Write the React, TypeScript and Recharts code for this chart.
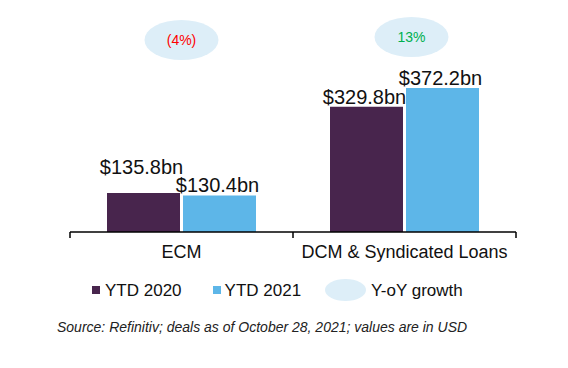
import {Bar, BarChart, LabelList, XAxis, YAxis} from 'recharts';

const categories = ['ECM', 'DCM & Syndicated Loans'];
const ytd2020 = [135.8, 329.8];
const ytd2021 = [130.4, 372.2];
const growth = ['(4%)', '13%'];

const data = categories.map((name, i) => ({name, ytd2020: ytd2020[i], ytd2021: ytd2021[i], growth: growth[i]}));

const FONT = '"Liberation Sans", Arial, sans-serif';
const PURPLE = '#48254d';
const BLUE = '#5db6e8';
const BUBBLE = '#ddeef8';

function CategoryTick(props: any) {
  const {x, y, payload, index, width, visibleTicksCount} = props;
  const half = width / visibleTicksCount / 2;
  const last = index === visibleTicksCount - 1;
  return (
    <g>
      <line x1={x - half} x2={x - half} y1={y} y2={y + 6} stroke="#000" strokeWidth={1.5} />
      {last && <line x1={x + half} x2={x + half} y1={y} y2={y + 6} stroke="#000" strokeWidth={1.5} />}
      <text x={x} y={y + 26} textAnchor="middle" fontSize={18} fontFamily={FONT} fill="#111">
        {payload.value}
      </text>
    </g>
  );
}

function GrowthTick(props: any) {
  const {x, y, index} = props;
  const value = growth[index];
  const negative = value.startsWith('(');
  const cx = x + (index === 1 ? 7 : 0);
  const cy = y - (index === 1 ? 23 : 20);
  return (
    <g>
      <ellipse cx={cx} cy={cy} rx={37} ry={20} fill={BUBBLE} />
      <text x={cx} y={cy + 5} textAnchor="middle" fontSize={14} fontFamily={FONT} fill={negative ? '#ff0000' : '#00b050'}>
        {value}
      </text>
    </g>
  );
}

const valueLabel = (lift: number[]) => (props: any) => {
  const {x, y, width, value, index} = props;
  return (
    <text x={x + width / 2 - 2} y={y - 3 - lift[index]} textAnchor="middle" fontSize={20} fontFamily={FONT} fill="#111">
      {`$${Number(value).toFixed(1)}bn`}
    </text>
  );
};

function LegendBox() {
  const text = {fontSize: 17, fontFamily: FONT, color: '#111', lineHeight: '17px'};
  return (
    <div style={{position: 'absolute', left: 0, top: 279, display: 'flex', alignItems: 'center', paddingLeft: 92, height: 22}}>
      <span style={{width: 8, height: 8, background: PURPLE, marginRight: 5}} />
      <span style={text}>YTD 2020</span>
      <span style={{width: 8, height: 8, background: BLUE, marginLeft: 31, marginRight: 4}} />
      <span style={text}>YTD 2021</span>
      <span style={{width: 41, height: 22, borderRadius: '50%', background: BUBBLE, marginLeft: 24, marginRight: 5}} />
      <span style={text}>Y-oY growth</span>
    </div>
  );
}

export default function App() {
  return (
    <div style={{position: 'absolute', left: 0, top: 0, width: 568, height: 368, background: '#fff'}}>
      <BarChart width={568} height={368} data={data} margin={{top: 0, right: 52, left: 70, bottom: 106}} barGap={3} barSize={73}>
        <XAxis dataKey="name" height={30} axisLine={{stroke: '#000', strokeWidth: 1.5}} tickLine={false} tickSize={0} tickMargin={0} tick={<CategoryTick />} interval={0} />
        <XAxis xAxisId="growth" dataKey="name" orientation="top" height={60} axisLine={false} tickLine={false} tickSize={0} tickMargin={0} tick={<GrowthTick />} interval={0} />
        <YAxis hide domain={[48, 435]} allowDataOverflow />
        <Bar dataKey="ytd2020" fill={PURPLE} isAnimationActive={false}>
          <LabelList dataKey="ytd2020" content={valueLabel([16, 0])} />
        </Bar>
        <Bar dataKey="ytd2021" fill={BLUE} isAnimationActive={false}>
          <LabelList dataKey="ytd2021" content={valueLabel([0, 0])} />
        </Bar>
      </BarChart>
      <LegendBox />
      <div style={{position: 'absolute', left: 57, top: 319, fontFamily: FONT, fontStyle: 'italic', fontSize: 14, color: '#222'}}>
        Source: Refinitiv; deals as of October 28, 2021; values are in USD
      </div>
    </div>
  );
}
